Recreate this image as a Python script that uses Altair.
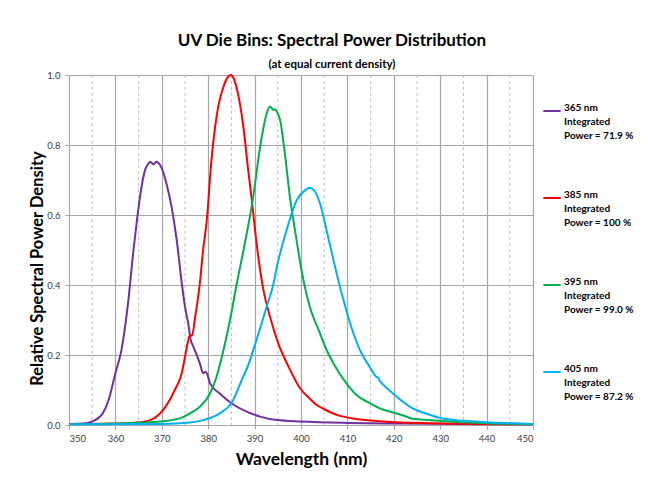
import altair as alt
import pandas as pd

# ---- data ----
series_names = ["365 nm|Integrated|Power = 71.9 %",
                "385 nm|Integrated|Power = 100 %",
                "395 nm|Integrated|Power = 99.0 %",
                "405 nm|Integrated|Power = 87.2 %"]
series_colors = ["#7030A0", "#FF0000", "#00B050", "#00B0F0"]

wl_365 = [350, 353, 355, 357.3, 358.5, 360, 361.3, 362.8, 363.9, 364.6, 365.3, 366.4, 367, 367.5,
          368.2, 368.8, 370, 371, 372.1, 373.2, 374.3, 375, 375.7, 376.2, 376.8, 378.2, 378.9,
          379.4, 379.8, 380.4, 382.5, 385, 388.3, 391.2, 394.8, 400, 410, 420, 435, 450]
val_365 = [0.003, 0.004, 0.010, 0.034, 0.07, 0.148, 0.214, 0.357, 0.50, 0.58, 0.652, 0.729, 0.745,
           0.752, 0.745, 0.752, 0.733, 0.69, 0.624, 0.53, 0.405, 0.338, 0.29, 0.245, 0.224, 0.176,
           0.148, 0.152, 0.145, 0.119, 0.09, 0.062, 0.038, 0.024, 0.014, 0.01, 0.006, 0.004, 0.003,
           0.002]

wl_385 = [350, 360, 364.6, 367.5, 370.3, 372.8, 374.3, 375, 375.5, 376.1, 376.5, 377.2, 378.2,
          378.9, 379.7, 380.7, 381.8, 383.3, 384.3, 384.8, 385.5, 386.1, 387.6, 388.6, 389.4,
          390.1, 390.8, 391.9, 393.3, 395.1, 397.3, 399.8, 401.9, 403.4, 405, 408.4, 410.6, 417.7,
          427.8, 440, 450]
val_385 = [0.003, 0.004, 0.007, 0.014, 0.043, 0.10, 0.148, 0.195, 0.23, 0.257, 0.255, 0.31, 0.405,
           0.50, 0.586, 0.757, 0.881, 0.967, 0.995, 1.0, 0.99, 0.965, 0.85, 0.73, 0.643, 0.557,
           0.48, 0.386, 0.31, 0.233, 0.167, 0.105, 0.075, 0.057, 0.045, 0.026, 0.02, 0.01, 0.005,
           0.003, 0.002]

wl_395 = [350, 362.4, 369.6, 373.9, 376.1, 378.2, 380.4, 381.8, 383.3, 384.7, 386.1, 387.9, 389.7,
          391.2, 392.6, 393.3, 393.7, 394.0, 394.4, 394.8, 395.5, 396.6, 397.6, 398.7, 400.1,
          401.9, 404.1, 405.5, 407, 409.8, 412, 414.9, 417.5, 420.6, 422.5, 424, 427.8, 432, 440,
          450]
val_395 = [0.002, 0.005, 0.01, 0.019, 0.033, 0.052, 0.09, 0.138, 0.214, 0.30, 0.40, 0.519, 0.652,
           0.795, 0.89, 0.91, 0.905, 0.90, 0.902, 0.895, 0.871, 0.767, 0.652, 0.557, 0.443, 0.338,
           0.262, 0.215, 0.176, 0.119, 0.085, 0.062, 0.045, 0.033, 0.025, 0.018, 0.014, 0.01,
           0.005, 0.002]

wl_405 = [350, 370, 376, 378.9, 382.5, 385, 387.6, 388.3, 390.4, 392.6, 394, 394.8, 396.9, 399.1,
          400.9, 401.9, 403, 404.1, 405.5, 407, 408.4, 410.6, 412.7, 414.5, 415.2, 415.8, 416.3,
          416.6, 417.0, 417.5, 419.2, 423.5, 427.8, 430, 435, 440, 450]
val_405 = [0.002, 0.003, 0.007, 0.014, 0.033, 0.062, 0.14, 0.16, 0.243, 0.338, 0.40, 0.452, 0.557,
           0.643, 0.671, 0.678, 0.667, 0.633, 0.557, 0.471, 0.395, 0.29, 0.214, 0.172, 0.157,
           0.145, 0.137, 0.136, 0.126, 0.118, 0.097, 0.052, 0.029, 0.02, 0.012, 0.008, 0.003]

x_major = [350, 360, 370, 380, 390, 400, 410, 420, 430, 440, 450]
x_minor = [355, 365, 375, 385, 395, 405, 415, 425, 435, 445]
y_ticks = [0.0, 0.2, 0.4, 0.6, 0.8, 1.0]

rows = []
for name, wls, vals in zip(series_names, [wl_365, wl_385, wl_395, wl_405],
                           [val_365, val_385, val_395, val_405]):
    for i, (w, v) in enumerate(zip(wls, vals)):
        rows.append({"series": name, "wl": w, "val": v, "order": i})
df = pd.DataFrame(rows)

FONT = "Lato"

xscale = alt.Scale(domain=[350, 450], nice=False, zero=False)
yscale = alt.Scale(domain=[0, 1], nice=False)

minor = alt.Chart(pd.DataFrame({"m": x_minor})).mark_rule(
    color="#BFBFBF", strokeDash=[3, 3], strokeWidth=1
).encode(x=alt.X("m:Q", scale=xscale))

lines = alt.Chart(df).mark_line(strokeWidth=2, interpolate="monotone").encode(
    x=alt.X("wl:Q", scale=xscale, title="Wavelength (nm)",
            axis=alt.Axis(values=x_major, format="d", grid=True, gridColor="#A6A6A6",
                          gridWidth=1.2, tickColor="#A6A6A6", tickSize=4,
                          domainColor="#A6A6A6", labelFont=FONT, labelFontSize=9.5,
                          labelColor="#404040", labelPadding=4, titleFont=FONT,
                          titleFontSize=17.5, titleFontWeight="bold", titleColor="#000000",
                          titlePadding=8)),
    y=alt.Y("val:Q", scale=yscale, title="Relative Spectral Power Density",
            axis=alt.Axis(values=y_ticks, format=".1f", grid=True, gridColor="#A6A6A6",
                          gridWidth=1.2, tickColor="#A6A6A6", tickSize=4,
                          domainColor="#A6A6A6", labelFont=FONT, labelFontSize=9.5,
                          labelColor="#404040", labelPadding=5, titleFont=FONT,
                          titleFontSize=16.5, titleFontWeight="bold", titleColor="#000000",
                          titlePadding=1, titleY=193)),
    color=alt.Color("series:N",
                    scale=alt.Scale(domain=series_names, range=series_colors),
                    legend=alt.Legend(title=None, orient="none", legendX=473, legendY=26,
                                      symbolType="stroke", symbolSize=300,
                                      symbolStrokeWidth=2, labelFont=FONT,
                                      labelFontSize=10, labelFontWeight="bold",
                                      labelColor="#000000", labelBaseline="alphabetic",
                                      labelLimit=200,
                                      labelExpr="split(datum.label, '|')",
                                      labelOffset=2, rowPadding=47)),
    order="order:Q",
)

chart = alt.layer(minor, lines).properties(
    width=464,
    height=350,
    padding={"left": 61, "top": 67, "right": 107, "bottom": 51},
    autosize=alt.AutoSizeParams(type="none"),
    title=alt.TitleParams(
        text="UV Die Bins: Spectral Power Distribution",
        subtitle="(at equal current density)",
        font=FONT, fontSize=17, fontWeight="bold", color="#000000",
        subtitleFont=FONT, subtitleFontSize=11.5, subtitleFontWeight="bold",
        subtitleColor="#000000", subtitlePadding=9,
        anchor="middle", dx=31, offset=-1,
    ),
).configure_view(stroke="#A6A6A6", strokeWidth=1.2).configure(
    background="white", style={"guide-label": {"lineHeight": 14}})

chart.save("out.html", embed_options={"renderer": "svg", "actions": False})
